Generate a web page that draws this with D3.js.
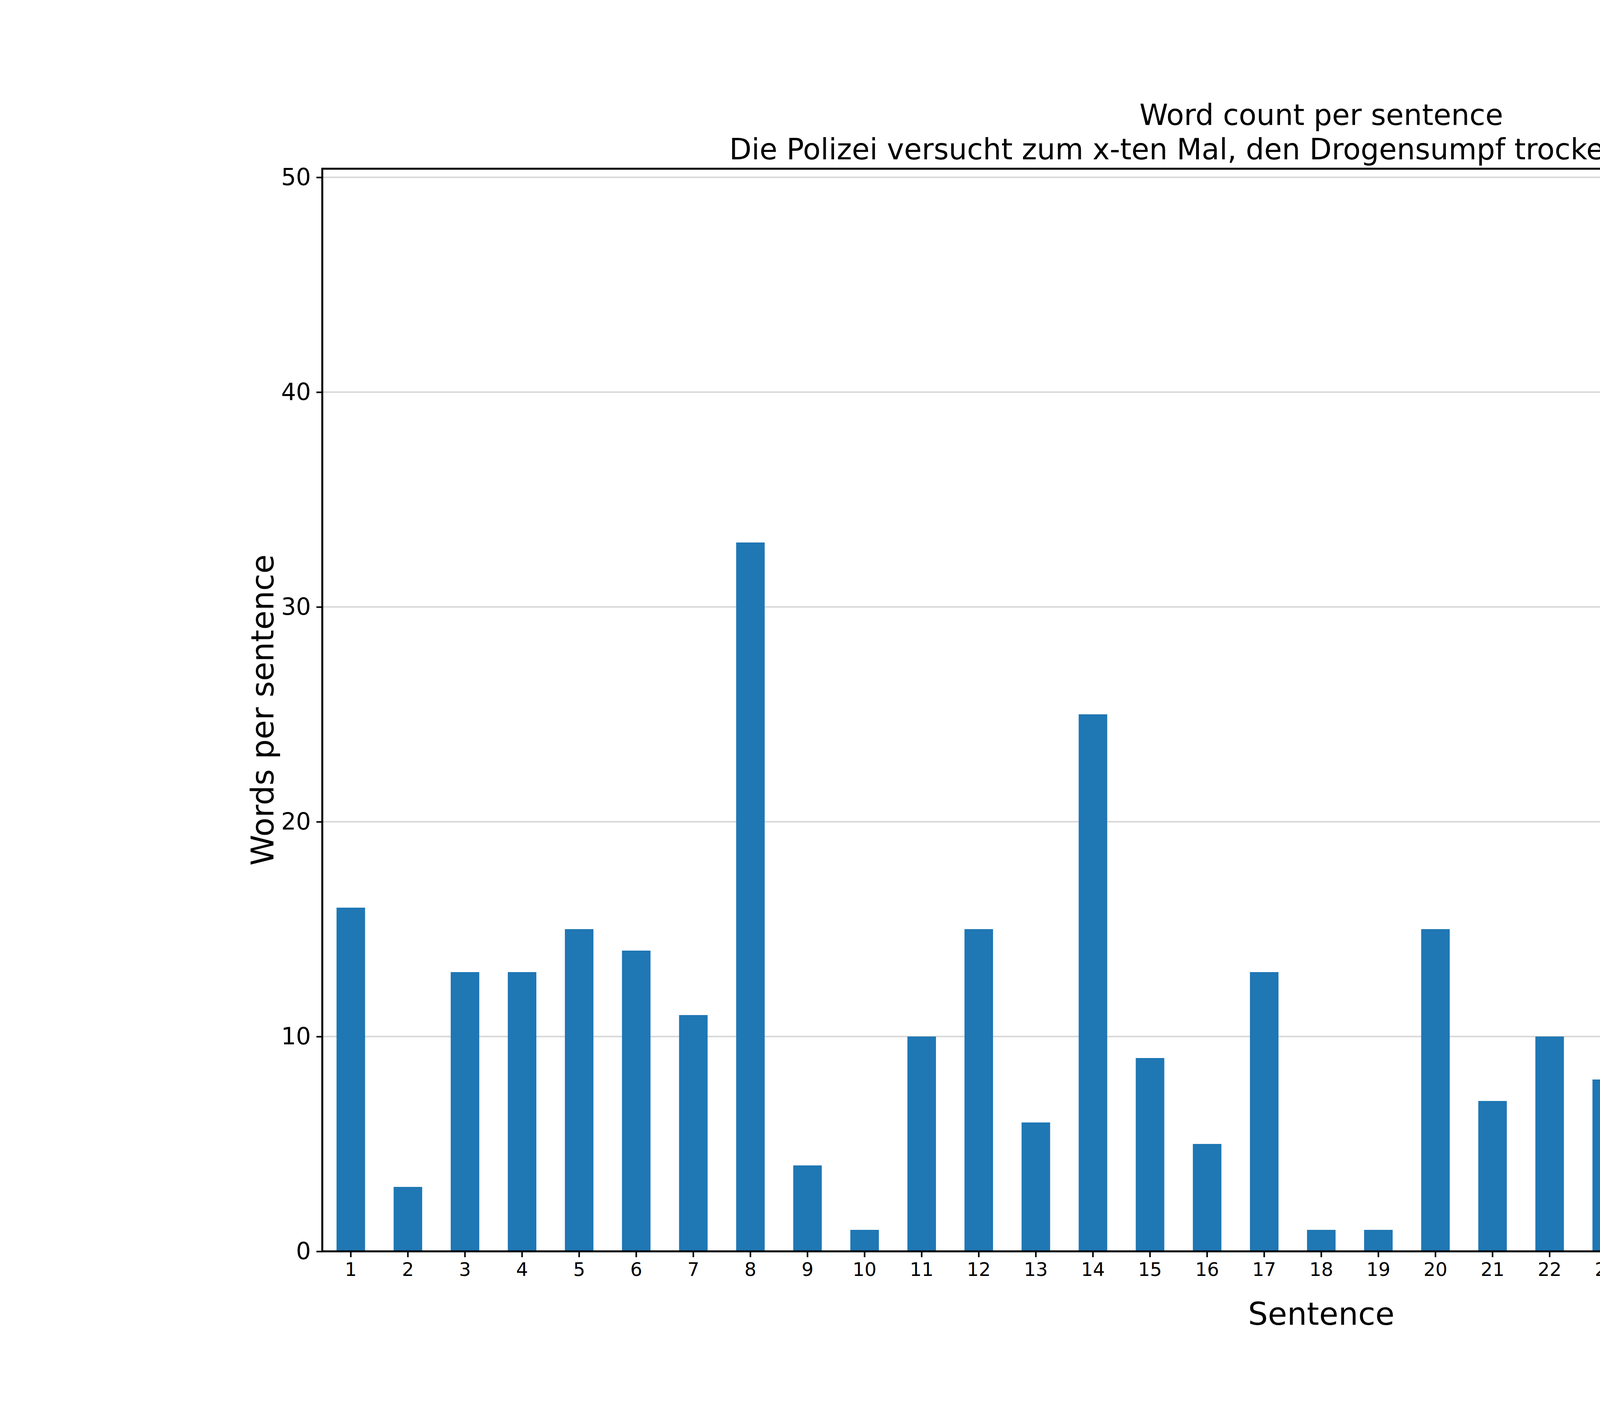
<!DOCTYPE html>
<html>
<head>
<meta charset="utf-8">
<title>Word count per sentence</title>
<script src="https://cdn.jsdelivr.net/npm/d3@7"></script>
<style>
  html, body { margin: 0; padding: 0; background: #fff; overflow: hidden; }
  svg { display: block; }
  text { font-family: "DejaVu Sans", sans-serif; }
</style>
</head>
<body>
<svg id="renderer" width="6600" height="3600"></svg>
<script>
// data
var sentences = d3.range(1, 36).map(String);
var wordCounts = [16, 3, 13, 13, 15, 14, 11, 33, 4, 1, 10, 15, 6, 25, 9, 5, 13, 1, 1, 15,
                  7, 10, 8, 11, 31, 1, 1, 19, 15, 48, 7, 12, 26, 1, 7];
var yTicks = [0, 10, 20, 30, 40, 50];
var titleLines = ['Word count per sentence',
                  'Die Polizei versucht zum x-ten Mal, den Drogensumpf trockenzulegen  2019-09-06'];
var seriesName = 'word_count';

(function () {
    var root = d3.select('#renderer');
    var plotLeft = 825, plotRight = 5940, plotTop = 432, plotBottom = 3204;
    var barColor = '#1f77b4';

    var x = d3.scaleBand().domain(sentences).range([plotLeft, plotRight])
        .paddingInner(0.5).paddingOuter(0.25);
    var y = d3.scaleLinear().domain([0, d3.max(wordCounts) * 1.05]).range([plotBottom, plotTop]);

    // grid
    root.append('g').selectAll('line').data(yTicks).join('line')
        .attr('x1', plotLeft).attr('x2', plotRight)
        .attr('y1', function (d) { return y(d); }).attr('y2', function (d) { return y(d); })
        .attr('stroke', '#d9d9d9').attr('stroke-width', 4);

    // bars
    root.append('g').selectAll('rect').data(wordCounts).join('rect')
        .attr('x', function (d, i) { return x(sentences[i]); })
        .attr('width', x.bandwidth())
        .attr('y', function (d) { return y(d); })
        .attr('height', function (d) { return plotBottom - y(d); })
        .attr('fill', barColor);

    // axes
    var xAxis = root.append('g').attr('transform', 'translate(0,' + plotBottom + ')')
        .call(d3.axisBottom(x).tickSize(15).tickPadding(14));
    xAxis.selectAll('text').attr('font-size', 48).attr('fill', '#000').attr('font-family', '"DejaVu Sans"');
    var yAxis = root.append('g').attr('transform', 'translate(' + plotLeft + ',0)')
        .call(d3.axisLeft(y).tickValues(yTicks).tickSize(15).tickPadding(14));
    yAxis.selectAll('text').attr('font-size', 60).attr('fill', '#000').attr('font-family', '"DejaVu Sans"');
    [xAxis, yAxis].forEach(function (a) {
        a.select('.domain').remove();
        a.selectAll('.tick line').attr('stroke', '#000').attr('stroke-width', 4);
    });

    // frame
    root.append('rect').attr('x', plotLeft).attr('y', plotTop)
        .attr('width', plotRight - plotLeft).attr('height', plotBottom - plotTop)
        .attr('fill', 'none').attr('stroke', '#000').attr('stroke-width', 5);

    // titles
    root.append('g').selectAll('text').data(titleLines).join('text')
        .text(function (d) { return d; })
        .attr('x', (plotLeft + plotRight) / 2)
        .attr('y', function (d, i) { return 320 + i * 88; })
        .attr('text-anchor', 'middle').attr('font-size', 74);

    root.append('text').text('Sentence')
        .attr('x', (plotLeft + plotRight) / 2).attr('y', 3392)
        .attr('text-anchor', 'middle').attr('font-size', 80);
    root.append('text').text('Words per sentence')
        .attr('transform', 'translate(700,' + (plotTop + plotBottom) / 2 + ') rotate(-90)')
        .attr('text-anchor', 'middle').attr('font-size', 80);

    // legend
    var lg = root.append('g').attr('transform', 'translate(' + (plotRight - 410) + ',' + (plotTop + 20) + ')');
    lg.append('rect').attr('width', 390).attr('height', 72).attr('rx', 8)
        .attr('fill', '#fff').attr('stroke', '#ccc').attr('stroke-width', 3);
    lg.append('rect').attr('x', 18).attr('y', 22).attr('width', 80).attr('height', 28).attr('fill', barColor);
    lg.append('text').text(seriesName).attr('x', 132).attr('y', 50).attr('font-size', 40);
})();
</script>
</body>
</html>
